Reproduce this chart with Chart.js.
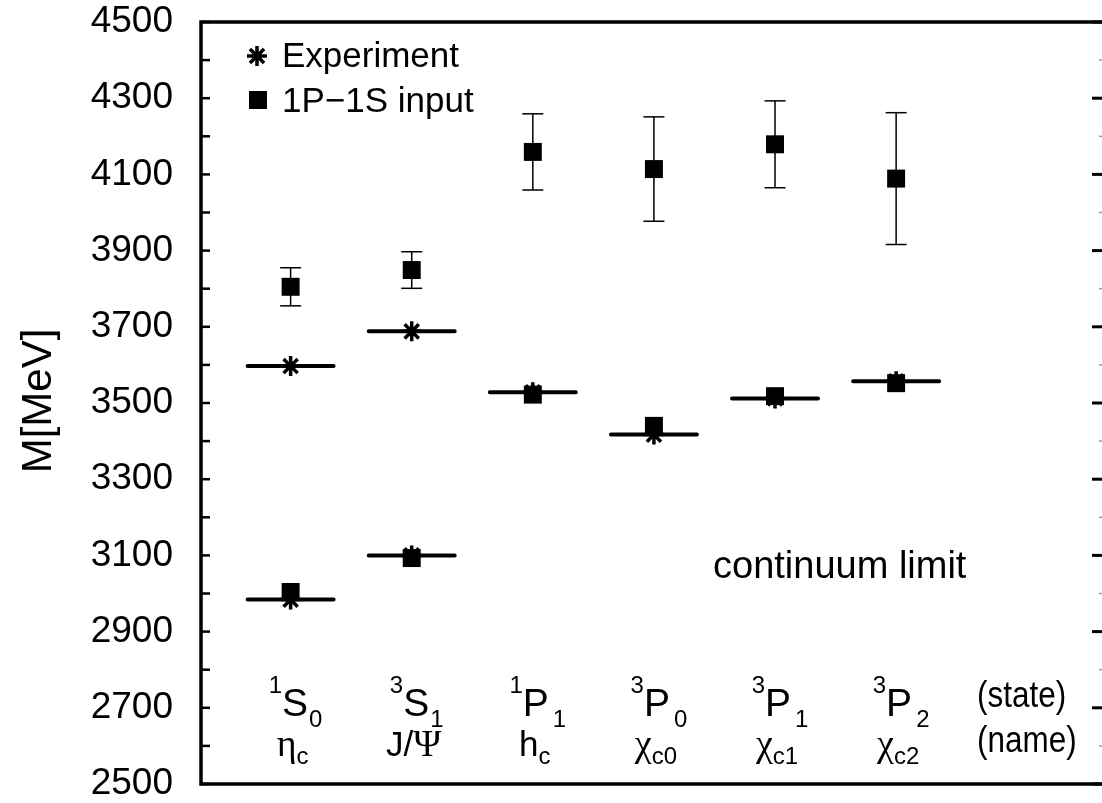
<!DOCTYPE html>
<html>
<head>
<meta charset="utf-8">
<script src="https://cdn.jsdelivr.net/npm/chart.js@4.4.1/dist/chart.umd.min.js"></script>
<style>
  html, body { margin: 0; padding: 0; background: #fff; overflow: hidden; }
  #wrap { width: 1102px; height: 803px; }
  canvas { display: block; }
</style>
</head>
<body>
<div id="wrap"><canvas id="massChart"></canvas></div>
<script>
// states along x
const stateX = [1, 2, 3, 4, 5, 6];
const stateSup = ['1', '3', '1', '3', '3', '3'];
const stateLetter = ['S', 'S', 'P', 'P', 'P', 'P'];
const stateSub = ['0', '1', '1', '0', '1', '2'];
const nameMain = ['η', 'J/Ψ', 'h', 'χ', 'χ', 'χ'];
const nameSub = ['c', '', 'c', 'c0', 'c1', 'c2'];

// experiment: stars with a horizontal bar
const expX = [1, 2, 1, 2, 3, 4, 5, 6];
const expMass = [2984, 3100, 3597, 3688, 3528, 3417, 3512, 3557];

// 1P-1S input: squares, error bars on the excited states
const inputX = [1, 2, 3, 4, 5, 6, 1, 2, 3, 4, 5, 6];
const inputMass = [3004, 3093, 3522, 3440, 3518, 3552, 3805, 3849, 4159, 4114, 4179, 4089];
const inputErr = [0, 0, 0, 0, 0, 0, 50, 48, 100, 137, 114, 173];

const yTickLabels = [2500, 2700, 2900, 3100, 3300, 3500, 3700, 3900, 4100, 4300, 4500];

const barHalf = 0.355;
const SANS = '"Liberation Sans", Arial, sans-serif';
const SERIF = '"Liberation Serif", "Times New Roman", serif';

const expBars = [];
expX.forEach((x, i) => {
  expBars.push({x: x - barHalf, y: expMass[i]}, {x: x + barHalf, y: expMass[i]}, {x: x, y: null});
});
const errBars = [];
inputX.forEach((x, i) => {
  if (!inputErr[i]) return;
  errBars.push({x: x, y: inputMass[i] - inputErr[i]}, {x: x, y: inputMass[i] + inputErr[i]}, {x: x, y: null});
});

function drawParts(ctx, cx, baseY, parts) {
  let total = 0;
  parts.forEach(p => { ctx.font = p.font; p.w = ctx.measureText(p.t).width; total += p.w + (p.gap || 0); });
  let x = cx - total / 2;
  parts.forEach(p => {
    x += p.gap || 0;
    ctx.font = p.font;
    ctx.fillText(p.t, x, baseY + (p.dy || 0));
    x += p.w;
  });
}

function drawStar(ctx, x, y, r) {
  ctx.beginPath();
  for (let k = 0; k < 4; k++) {
    const a = k * Math.PI / 4;
    ctx.moveTo(x + Math.cos(a) * r, y + Math.sin(a) * r);
    ctx.lineTo(x - Math.cos(a) * r, y - Math.sin(a) * r);
  }
  ctx.stroke();
}

function narrowText(ctx, text, x, y, sx) {
  ctx.save();
  ctx.translate(x, y);
  ctx.scale(sx, 1);
  ctx.fillText(text, 0, 0);
  ctx.restore();
}

const decor = {
  id: 'decor',
  afterDraw(chart) {
    const {ctx, chartArea: a, scales: {x, y}} = chart;
    ctx.save();
    ctx.strokeStyle = '#000';
    ctx.fillStyle = '#000';

    // ticks, left inward and right side
    for (let v = 2500; v <= 4500; v += 100) {
      const py = y.getPixelForValue(v);
      ctx.lineWidth = 2.5;
      ctx.beginPath(); ctx.moveTo(a.left, py); ctx.lineTo(a.left + 9, py); ctx.stroke();
      if (yTickLabels.includes(v)) {
        ctx.lineWidth = 3;
        ctx.beginPath(); ctx.moveTo(a.right - 10, py); ctx.lineTo(a.right, py); ctx.stroke();
      } else {
        ctx.strokeStyle = '#999';
        ctx.lineWidth = 1.5;
        ctx.beginPath(); ctx.moveTo(a.right - 3, py); ctx.lineTo(a.right, py); ctx.stroke();
        ctx.strokeStyle = '#000';
      }
    }

    // frame
    ctx.lineWidth = 3.5;
    ctx.beginPath();
    ctx.moveTo(a.right, a.top); ctx.lineTo(a.left, a.top);
    ctx.lineTo(a.left, a.bottom); ctx.lineTo(a.right, a.bottom);
    ctx.stroke();

    // legend
    ctx.lineWidth = 3.5;
    drawStar(ctx, 257, 56, 10);
    ctx.fillRect(249, 91, 18, 18);
    ctx.font = '35px ' + SANS;
    ctx.textBaseline = 'alphabetic';
    ctx.textAlign = 'left';
    ctx.fillText('Experiment', 282, 67);
    ctx.fillText('1P\u22121S input', 282, 112);

    // continuum limit
    ctx.font = '38px ' + SANS;
    ctx.fillText('continuum limit', 713, 578);

    // state and name labels
    stateX.forEach((sx, i) => {
      const cx = x.getPixelForValue(sx) + 5;
      drawParts(ctx, cx, 716, [
        {t: stateSup[i], font: '24px ' + SANS, dy: -23},
        {t: stateLetter[i], font: '39px ' + SANS},
        {t: stateSub[i], font: '24px ' + SANS, dy: 11, gap: stateLetter[i] === 'P' ? 4 : 1}
      ]);
      const parts = [];
      for (const ch of nameMain[i]) {
        const greek = /[\u0370-\u03ff]/.test(ch);
        parts.push({t: ch, font: (greek ? '38px ' + SERIF : '35px ' + SANS)});
      }
      if (nameSub[i]) parts.push({t: nameSub[i], font: '24px ' + SANS, dy: 8});
      drawParts(ctx, cx - 3, 756, parts);
    });
    ctx.font = '37px ' + SANS;
    narrowText(ctx, '(state)', 977, 707, 0.85);
    narrowText(ctx, '(name)', 977, 752, 0.85);

    // y title
    ctx.translate(51, 401);
    ctx.rotate(-Math.PI / 2);
    ctx.textAlign = 'center';
    ctx.font = '42px ' + SANS;
    ctx.fillText('M[MeV]', 0, 0);
    ctx.restore();
  }
};

new Chart(document.getElementById('massChart'), {
  type: 'line',
  data: {
    datasets: [
      {
        label: 'Experiment bars',
        data: expBars,
        borderColor: '#000',
        borderWidth: 4,
        borderCapStyle: 'round',
        pointRadius: 0,
        spanGaps: false,
        order: 1
      },
      {
        label: '1P\u22121S input',
        data: inputX.map((x, i) => ({x: x, y: inputMass[i]})),
        showLine: false,
        pointStyle: 'rect',
        pointRadius: 12.7,
        backgroundColor: '#000',
        borderColor: '#000',
        borderWidth: 0,
        order: 2
      },
      {
        label: 'Experiment',
        data: expX.map((x, i) => ({x: x, y: expMass[i]})),
        showLine: false,
        pointStyle: 'star',
        pointRadius: 10,
        borderColor: '#000',
        backgroundColor: '#000',
        pointBorderWidth: 3.5,
        order: 3
      },
      {
        label: 'errors',
        data: errBars,
        borderColor: '#000',
        borderWidth: 1.5,
        pointStyle: 'line',
        pointRadius: 10.5,
        pointBorderWidth: 1.5,
        spanGaps: false,
        order: 4
      }
    ]
  },
  options: {
    responsive: true,
    maintainAspectRatio: false,
    animation: false,
    events: [],
    layout: {autoPadding: false, padding: {left: 0, right: 0, top: 22, bottom: 19}},
    plugins: {legend: {display: false}, tooltip: {enabled: false}},
    scales: {
      x: {type: 'linear', min: 0.26, max: 7.7, display: false},
      y: {
        min: 2500, max: 4500,
        grid: {display: false, drawTicks: false},
        border: {display: false},
        afterFit: (s) => { s.width = 201; s.paddingTop = 0; s.paddingBottom = 0; },
        ticks: {
          stepSize: 100,
          autoSkip: false,
          padding: 28,
          color: '#000',
          font: {family: SANS, size: 37},
          callback: (v) => yTickLabels.includes(v) ? String(v) : ''
        }
      }
    }
  },
  plugins: [decor]
});
</script>
</body>
</html>
